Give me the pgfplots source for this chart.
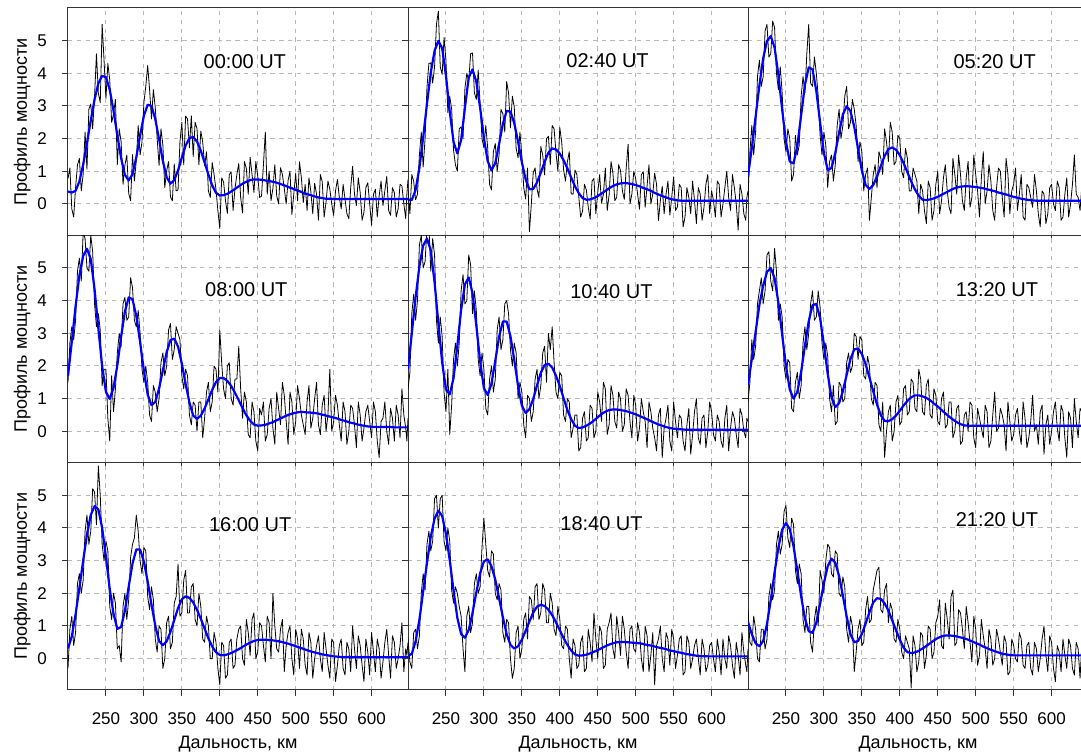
\documentclass[border=0pt]{standalone}
\usepackage{fontspec}
\setmainfont{Liberation Sans}
\usepackage{pgfplots}
\usepackage{pgfplotstable}
\pgfplotsset{compat=1.18}

% x: range, km; b: fitted profile (nan where only the measurement is read); k: measured profile
\pgfplotstableread{
x b k
200 0.38 0.78
202.5 nan 1.1
205 0.35 -0.15
207.5 nan -0.4
210 0.40 0.50
212.5 nan 1.2
215 0.69 1.39
217.5 nan 0.4
220 1.21 0.91
222.5 nan 2.2
225 1.86 1.06
227.5 nan 2.9
230 2.56 3.06
232.5 nan 2.3
235 3.20 3.30
237.5 nan 4.6
240 3.69 3.39
242.5 nan 3.1
245 3.92 5.50
247.5 nan 4.4
250 3.88 3.23
252.5 nan 4.3
255 3.50 3.80
257.5 nan 2.5
260 2.85 2.75
262.5 nan 3.2
265 2.10 1.20
267.5 nan 2.3
270 1.40 1.90
272.5 nan 0.6
275 0.89 1.19
277.5 nan 1.5
280 0.72 0.32
282.5 nan 0.1
285 0.91 1.51
287.5 nan 0.7
290 1.43 1.33
292.5 nan 2.4
295 2.10 1.50
297.5 nan 1.9
300 2.70 3.10
302.5 nan 3.6
305 3.04 4.24
307.5 nan 3.5
310 3.00 2.60
312.5 nan 3.5
315 2.60 2.95
317.5 nan 2.0
320 1.98 1.18
322.5 nan 2.3
325 1.31 1.81
327.5 nan 0.5
330 0.82 1.02
332.5 nan 1.3
335 0.62 0.22
337.5 nan 0.1
340 0.73 1.23
342.5 nan 0.4
345 1.03 0.43
347.5 nan 1.9
350 1.42 2.50
352.5 nan 1.2
355 1.79 2.69
357.5 nan 2.6
360 2.02 1.72
362.5 nan 2.7
365 2.05 1.45
367.5 nan 2.5
370 1.91 2.31
372.5 nan 1.2
375 1.63 2.23
377.5 nan 1.9
380 1.27 1.17
382.5 nan 1.6
385 0.90 0.40
387.5 nan 0.2
390 0.57 1.27
392.5 nan 0.9
395 0.34 0.44
397.5 nan -0.2
400 0.26 -0.75
402.5 nan 0.8
405 0.27 0.67
407.5 nan 0.1
410 0.31 -0.29
412.5 nan 0.9
415 0.38 0.98
417.5 nan -0.2
420 0.46 0.46
422.5 nan 0.9
425 0.54 1.24
427.5 nan 0.2
430 0.62 -0.28
432.5 nan 1.3
435 0.68 1.08
437.5 nan 0.3
440 0.73 1.43
442.5 nan 0.9
445 0.75 0.35
447.5 nan 1.3
450 0.75 0.85
452.5 nan 0.2
455 0.74 0.24
457.5 nan 1.2
460 0.72 2.20
462.5 nan 0.3
465 0.70 1.00
467.5 nan 0.1
470 0.68 0.48
472.5 nan 1.2
475 0.65 0.25
477.5 nan 0.0
480 0.61 1.11
482.5 nan 0.9
485 0.57 0.47
487.5 nan 0.0
490 0.52 0.72
492.5 nan 1.0
495 0.48 -0.32
497.5 nan 0.3
500 0.43 0.93
502.5 nan 0.1
505 0.39 1.29
507.5 nan 0.8
510 0.34 0.04
512.5 nan 0.6
515 0.30 -0.20
517.5 nan 0.8
520 0.27 0.37
522.5 nan -0.3
525 0.23 0.63
527.5 nan 0.3
530 0.20 -0.50
532.5 nan 0.9
535 0.18 0.68
537.5 nan -0.4
540 0.16 0.06
542.5 nan 0.7
545 0.16 0.45
547.5 nan 0.0
550 0.15 -0.35
552.5 nan 0.4
555 0.15 0.75
557.5 nan 0.2
560 0.15 -0.15
562.5 nan 0.6
565 0.15 0.15
567.5 nan -0.3
570 0.15 -0.45
572.5 nan 0.5
575 0.15 1.15
577.5 nan 0.3
580 0.15 -0.05
582.5 nan 0.8
585 0.15 0.35
587.5 nan -0.5
590 0.15 -0.25
592.5 nan 0.5
595 0.15 0.65
597.5 nan 0.0
600 0.15 -0.65
602.5 nan 0.3
605 0.15 0.45
607.5 nan -0.4
610 0.15 0.25
612.5 nan 0.7
615 0.15 -0.05
617.5 nan 0.4
620 0.15 0.85
622.5 nan -0.2
625 0.15 -0.35
627.5 nan 0.5
630 0.15 0.35
632.5 nan -0.4
635 0.15 -0.15
637.5 nan 0.6
640 0.15 0.55
642.5 nan 0.0
645 0.15 -0.45
646.5 nan 0.3
648 0.15 0.75
}\dataA

\pgfplotstableread{
x b k
200 0.13 0.43
202.5 nan -0.3
205 0.12 0.90
207.5 nan 0.7
210 0.43 0.13
212.5 nan 0.3
215 1.10 1.50
217.5 nan 2.2
220 2.04 1.13
222.5 nan 2.0
225 3.07 3.57
227.5 nan 4.3
230 4.02 4.32
232.5 nan 3.7
235 4.69 4.19
237.5 nan 5.5
240 4.99 5.90
242.5 nan 4.2
245 4.77 3.97
247.5 nan 5.1
250 3.93 4.40
252.5 nan 2.8
255 2.83 3.30
257.5 nan 2.9
260 1.90 1.65
262.5 nan 1.2
265 1.55 1.00
267.5 nan 2.3
270 1.96 2.36
272.5 nan 2.0
275 2.94 3.54
277.5 nan 4.0
280 3.87 3.77
282.5 nan 4.6
285 4.12 4.62
287.5 nan 3.4
290 3.74 3.20
292.5 nan 4.1
295 2.95 3.05
297.5 nan 2.0
300 2.02 1.72
302.5 nan 2.4
305 1.31 1.71
307.5 nan 0.6
310 1.03 0.43
312.5 nan 1.6
315 1.25 1.85
317.5 nan 1.0
320 1.83 1.50
322.5 nan 2.9
325 2.46 2.76
327.5 nan 2.2
330 2.85 3.75
332.5 nan 3.4
335 2.83 2.33
337.5 nan 3.3
340 2.47 2.97
342.5 nan 1.7
345 1.91 1.41
347.5 nan 2.2
350 1.28 1.48
352.5 nan 0.5
355 0.75 0.15
357.5 nan 1.1
360 0.45 -0.85
362.5 nan 0.0
365 0.46 0.96
367.5 nan 1.1
370 0.66 0.46
372.5 nan 0.2
375 0.96 1.76
377.5 nan 1.5
380 1.29 0.89
382.5 nan 2.0
385 1.57 2.07
387.5 nan 1.2
390 1.70 2.40
392.5 nan 2.3
395 1.67 1.57
397.5 nan 1.0
400 1.54 2.34
402.5 nan 1.9
405 1.34 1.04
407.5 nan 0.7
410 1.09 1.29
412.5 nan 1.6
415 0.81 0.31
417.5 nan 0.3
420 0.54 1.04
422.5 nan 0.9
425 0.33 0.23
427.5 nan -0.4
430 0.18 -0.22
432.5 nan 0.6
435 0.13 0.43
437.5 nan -0.1
440 0.14 -0.46
442.5 nan 0.7
445 0.18 0.78
447.5 nan -0.3
450 0.24 0.34
452.5 nan 0.9
455 0.32 0.02
457.5 nan 0.3
460 0.40 1.10
462.5 nan -0.2
465 0.48 0.28
467.5 nan 1.3
470 0.55 0.95
472.5 nan 0.1
475 0.60 0.20
477.5 nan 1.2
480 0.63 1.03
482.5 nan 0.4
485 0.64 0.14
487.5 nan 1.1
490 0.63 1.83
492.5 nan 0.0
495 0.61 0.31
497.5 nan 1.0
500 0.58 0.78
502.5 nan 0.3
505 0.54 -0.16
507.5 nan 0.9
510 0.49 0.99
512.5 nan -0.1
515 0.45 0.55
517.5 nan 1.2
520 0.40 0.00
522.5 nan 0.3
525 0.34 0.94
527.5 nan 0.6
530 0.29 -0.51
532.5 nan 0.1
535 0.24 0.54
537.5 nan -0.3
540 0.20 0.30
542.5 nan 0.7
545 0.16 -0.34
547.5 nan 0.2
550 0.13 0.83
552.5 nan -0.2
555 0.11 -0.09
557.5 nan 0.6
560 0.10 0.50
562.5 nan -0.7
565 0.10 -0.40
567.5 nan 0.5
570 0.10 0.20
572.5 nan -0.3
575 0.10 0.70
577.5 nan 0.1
580 0.10 -0.60
582.5 nan 0.5
585 0.10 0.30
587.5 nan -0.5
590 0.10 -0.10
592.5 nan 0.6
595 0.10 0.90
597.5 nan -0.3
600 0.10 0.40
602.5 nan 0.1
605 0.10 -0.40
607.5 nan 0.7
610 0.10 0.60
612.5 nan -0.4
615 0.10 0.00
617.5 nan 0.5
620 0.10 1.00
622.5 nan 0.2
625 0.10 -0.20
627.5 nan 0.9
630 0.10 0.50
632.5 nan 0.0
635 0.10 -0.80
637.5 nan 0.6
640 0.10 0.30
642.5 nan -0.3
645 0.10 -0.50
646.5 nan 0.2
648 0.10 0.40
}\dataB

\pgfplotstableread{
x b k
200 0.86 0.2
202.5 nan 1.6
205 1.71 2.4
207.5 nan 1.5
210 2.67 2.2
212.5 nan 3.9
215 3.63 4.4
217.5 nan 3.6
220 4.46 3.9
222.5 nan 5.3
225 4.99 5.5
227.5 nan 4.5
230 5.14 4.6
232.5 nan 5.6
235 4.79 5.4
237.5 nan 4.0
240 3.95 3.5
242.5 nan 4.2
245 2.89 3.4
247.5 nan 2.0
250 1.90 1.6
252.5 nan 2.3
255 1.30 2.0
257.5 nan 0.7
260 1.24 0.9
262.5 nan 2.1
265 1.78 1.5
267.5 nan 1.8
270 2.71 3.3
272.5 nan 3.9
275 3.65 3.4
277.5 nan 4.6
280 4.18 5.5
282.5 nan 3.7
285 4.12 3.6
287.5 nan 4.5
290 3.46 4.0
292.5 nan 3.3
295 2.49 2.1
297.5 nan 1.5
300 1.56 2.2
302.5 nan 1.8
305 1.04 0.5
307.5 nan 1.3
310 1.10 1.5
312.5 nan 0.7
315 1.56 1.2
317.5 nan 2.4
320 2.18 2.9
322.5 nan 2.0
325 2.74 2.4
327.5 nan 3.3
330 2.99 3.6
332.5 nan 2.3
335 2.84 2.5
337.5 nan 3.2
340 2.36 2.9
342.5 nan 2.4
345 1.69 1.3
347.5 nan 1.9
350 1.02 1.6
352.5 nan 0.4
355 0.58 0.9
357.5 nan 1.1
360 0.46 -0.5
362.5 nan 0.2
365 0.58 0.9
367.5 nan 1.2
370 0.84 0.5
372.5 nan 1.6
375 1.16 1.4
377.5 nan 0.9
380 1.47 2.3
382.5 nan 1.9
385 1.68 1.3
387.5 nan 2.5
390 1.73 2.2
392.5 nan 1.2
395 1.66 1.3
397.5 nan 2.1
400 1.49 2.0
402.5 nan 1.0
405 1.25 0.8
407.5 nan 1.7
410 0.97 1.4
412.5 nan 0.4
415 0.69 0.4
417.5 nan 1.1
420 0.44 0.9
422.5 nan 0.7
425 0.25 -0.3
427.5 nan 0.6
430 0.13 0.4
432.5 nan -0.2
435 0.12 -0.6
437.5 nan 0.7
440 0.14 0.5
442.5 nan -0.5
445 0.17 -0.2
447.5 nan 0.6
450 0.22 1.0
452.5 nan -0.3
455 0.28 0.1
457.5 nan 0.8
460 0.34 1.2
462.5 nan 0.4
465 0.40 -0.1
467.5 nan -0.3
470 0.46 1.4
472.5 nan 0.9
475 0.50 0.3
477.5 nan 1.5
480 0.53 0.9
482.5 nan 0.1
485 0.54 -0.2
487.5 nan 0.8
490 0.54 1.3
492.5 nan -0.1
495 0.53 0.2
497.5 nan 1.5
500 0.52 0.9
502.5 nan 0.4
505 0.50 -0.4
507.5 nan 0.8
510 0.48 1.6
512.5 nan 0.0
515 0.45 0.4
517.5 nan 1.2
520 0.42 0.7
522.5 nan -0.2
525 0.39 -0.5
527.5 nan 0.5
530 0.35 1.1
532.5 nan 1.0
535 0.32 0.2
537.5 nan -0.4
540 0.29 1.4
542.5 nan 0.9
545 0.25 -0.3
547.5 nan 0.4
550 0.22 0.6
552.5 nan 1.1
555 0.19 -0.2
557.5 nan 0.3
560 0.16 0.9
562.5 nan -0.4
565 0.14 -0.5
567.5 nan 0.6
570 0.12 0.5
572.5 nan 0.2
575 0.11 -0.1
577.5 nan 0.9
580 0.10 0.4
582.5 nan -0.3
585 0.10 -0.7
587.5 nan 0.4
590 0.10 0.3
592.5 nan -0.6
595 0.10 -0.3
597.5 nan 0.5
600 0.10 0.6
602.5 nan 0.0
605 0.10 -0.2
607.5 nan 0.7
610 0.10 0.5
612.5 nan -0.5
615 0.10 -0.4
617.5 nan 0.3
620 0.10 0.8
622.5 nan -0.4
625 0.10 0.0
627.5 nan 0.6
630 0.10 1.5
632.5 nan 0.3
635 0.10 0.2
637.5 nan -0.2
640 0.10 0.6
642.5 nan 0.9
645 0.10 -0.3
646.5 nan 0.0
648 0.10 0.4
}\dataC

\pgfplotstableread{
x b k
200 1.69 1.5
202.5 nan 2.7
205 2.74 3.2
207.5 nan 2.8
210 3.83 3.4
212.5 nan 4.9
215 4.77 5.3
217.5 nan 4.6
220 5.37 6.1
222.5 nan 5.9
225 5.59 5.0
227.5 nan 4.9
230 5.27 6.0
232.5 nan 5.5
235 4.35 3.9
237.5 nan 3.2
240 3.15 3.6
242.5 nan 3.1
245 1.99 1.4
247.5 nan 1.9
250 1.20 1.9
252.5 nan 0.4
255 0.99 -0.3
257.5 nan 1.7
260 1.33 0.6
262.5 nan 1.3
265 2.02 2.4
267.5 nan 3.0
270 2.90 2.6
272.5 nan 3.9
275 3.67 4.1
277.5 nan 3.4
280 4.10 3.5
282.5 nan 4.7
285 4.04 4.4
287.5 nan 3.4
290 3.53 3.2
292.5 nan 3.7
295 2.73 3.0
297.5 nan 1.9
300 1.86 1.5
302.5 nan 2.0
305 1.12 1.5
307.5 nan 0.5
310 0.80 0.3
312.5 nan 1.4
315 0.90 1.2
317.5 nan 0.6
320 1.31 1.0
322.5 nan 2.1
325 1.87 2.4
327.5 nan 1.7
330 2.42 2.0
332.5 nan 3.1
335 2.79 3.3
337.5 nan 2.2
340 2.84 2.5
342.5 nan 3.2
345 2.59 3.0
347.5 nan 2.8
350 2.07 1.7
352.5 nan 1.3
355 1.45 1.9
357.5 nan 1.7
360 0.88 0.5
362.5 nan 0.2
365 0.48 0.9
367.5 nan 0.8
370 0.38 0.0
372.5 nan 0.9
375 0.48 0.9
377.5 nan -0.2
380 0.70 0.4
382.5 nan 1.2
385 0.98 1.5
387.5 nan 0.6
390 1.27 0.9
392.5 nan 2.0
395 1.51 1.9
397.5 nan 1.2
400 1.63 3.1
402.5 nan 2.1
405 1.63 1.3
407.5 nan 1.0
410 1.54 2.0
412.5 nan 2.1
415 1.39 1.0
417.5 nan 0.8
420 1.18 1.6
422.5 nan 1.6
425 0.95 2.6
427.5 nan 1.3
430 0.71 0.4
432.5 nan 1.2
435 0.49 0.9
437.5 nan -0.1
440 0.32 -0.2
442.5 nan 0.9
445 0.21 0.6
447.5 nan -0.3
450 0.17 -0.6
452.5 nan 0.7
455 0.18 0.5
457.5 nan 0.9
460 0.20 -0.3
462.5 nan -0.1
465 0.24 0.7
467.5 nan 1.0
470 0.28 0.1
472.5 nan -0.4
475 0.34 1.2
477.5 nan 0.7
480 0.39 0.2
482.5 nan 1.5
485 0.45 1.1
487.5 nan 0.3
490 0.50 -0.4
492.5 nan 1.2
495 0.54 0.9
497.5 nan -0.1
500 0.57 0.3
502.5 nan 1.4
505 0.59 1.0
507.5 nan 0.5
510 0.59 0.2
512.5 nan -0.1
515 0.58 0.9
517.5 nan 1.4
520 0.57 0.1
522.5 nan 0.4
525 0.56 1.0
527.5 nan 1.5
530 0.54 0.2
532.5 nan -0.1
535 0.51 0.8
537.5 nan 1.1
540 0.48 0.0
542.5 nan 0.5
545 0.45 1.9
547.5 nan 0.0
550 0.42 0.3
552.5 nan 1.1
555 0.39 0.8
557.5 nan 0.2
560 0.35 -0.3
562.5 nan 0.9
565 0.32 0.6
567.5 nan -0.4
570 0.28 0.0
572.5 nan 0.8
575 0.25 0.7
577.5 nan 0.2
580 0.22 -0.5
582.5 nan 0.9
585 0.19 0.5
587.5 nan -0.3
590 0.17 0.1
592.5 nan 0.6
595 0.15 0.8
597.5 nan 0.3
600 0.14 -0.2
602.5 nan 0.9
605 0.13 0.6
607.5 nan -0.3
610 0.13 -0.8
612.5 nan 0.3
615 0.13 0.4
617.5 nan 0.9
620 0.13 0.0
622.5 nan -0.4
625 0.13 0.7
627.5 nan 0.4
630 0.12 -0.3
632.5 nan 0.8
635 0.12 0.5
637.5 nan -0.2
640 0.12 1.3
642.5 nan 0.5
645 0.12 0.1
646.5 nan -0.3
648 0.12 0.4
}\dataD

\pgfplotstableread{
x b k
200 1.90 1.3
202.5 nan 1.8
205 3.00 3.6
207.5 nan 4.2
210 4.10 3.4
212.5 nan 4.0
215 5.05 5.7
217.5 nan 6.0
220 5.69 5.0
222.5 nan 5.2
225 5.90 6.2
227.5 nan 6.3
230 5.54 4.9
232.5 nan 5.9
235 4.56 5.4
237.5 nan 3.4
240 3.31 2.7
242.5 nan 3.5
245 2.11 2.9
247.5 nan 1.2
250 1.29 0.6
252.5 nan 1.9
255 1.13 -0.1
257.5 nan 0.8
260 1.63 2.2
262.5 nan 2.7
265 2.62 2.0
267.5 nan 2.7
270 3.72 4.3
272.5 nan 4.8
275 4.50 3.9
277.5 nan 4.0
280 4.71 5.4
282.5 nan 5.1
285 4.23 3.6
287.5 nan 4.3
290 3.24 3.7
292.5 nan 2.2
295 2.15 1.7
297.5 nan 2.4
300 1.32 1.9
302.5 nan 0.7
305 1.11 0.5
307.5 nan 1.6
310 1.46 2.0
312.5 nan 1.2
315 2.16 1.6
317.5 nan 3.1
320 2.89 3.5
322.5 nan 2.5
325 3.36 2.8
327.5 nan 3.9
330 3.36 4.0
332.5 nan 3.6
335 2.91 2.5
337.5 nan 2.0
340 2.19 2.7
342.5 nan 2.4
345 1.39 1.0
347.5 nan 1.5
350 0.79 1.2
352.5 nan 0.2
355 0.56 -0.2
357.5 nan 1.1
360 0.68 1.0
362.5 nan 0.3
365 0.99 0.6
367.5 nan 1.6
370 1.41 1.9
372.5 nan 1.0
375 1.79 1.4
377.5 nan 2.4
380 2.03 2.6
382.5 nan 1.5
385 2.07 3.0
387.5 nan 2.5
390 1.95 3.2
392.5 nan 2.1
395 1.70 1.2
397.5 nan 1.0
400 1.39 1.8
402.5 nan 1.7
405 1.01 0.5
407.5 nan 0.3
410 0.65 1.0
412.5 nan 0.9
415 0.37 -0.2
417.5 nan 0.1
420 0.17 0.5
422.5 nan 0.5
425 0.10 -0.6
427.5 nan -0.5
430 0.12 0.4
432.5 nan 0.6
435 0.17 -0.3
437.5 nan -0.2
440 0.24 0.8
442.5 nan 0.7
445 0.33 -0.2
447.5 nan 0.0
450 0.43 1.2
452.5 nan 0.9
455 0.53 0.3
457.5 nan 1.5
460 0.60 1.3
462.5 nan -0.1
465 0.65 0.2
467.5 nan 1.4
470 0.67 1.1
472.5 nan 0.3
475 0.67 0.1
477.5 nan 1.2
480 0.65 1.0
482.5 nan 0.0
485 0.63 0.2
487.5 nan 1.3
490 0.60 1.1
492.5 nan 0.3
495 0.56 -0.2
497.5 nan 1.1
500 0.52 0.8
502.5 nan -0.3
505 0.47 0.1
507.5 nan 1.0
510 0.42 0.6
512.5 nan 0.3
515 0.37 -0.5
517.5 nan 0.9
520 0.31 0.6
522.5 nan 0.1
525 0.26 -0.2
527.5 nan -0.6
530 0.21 0.5
532.5 nan 0.7
535 0.17 -0.8
537.5 nan 0.1
540 0.13 0.4
542.5 nan 0.8
545 0.10 -0.3
547.5 nan -0.6
550 0.08 0.9
552.5 nan 0.3
555 0.07 -0.2
557.5 nan 0.5
560 0.06 0.4
562.5 nan -0.3
565 0.05 -0.6
567.5 nan 0.2
570 0.05 0.7
572.5 nan -0.7
575 0.05 -0.1
577.5 nan 0.6
580 0.05 1.0
582.5 nan -0.2
585 0.05 -0.4
587.5 nan 0.4
590 0.05 0.5
592.5 nan -0.5
595 0.05 0.0
597.5 nan 0.9
600 0.05 0.6
602.5 nan -0.1
605 0.05 -0.3
607.5 nan 0.5
610 0.05 0.3
612.5 nan -0.3
615 0.05 -0.5
617.5 nan 0.4
620 0.05 0.8
622.5 nan -0.6
625 0.05 0.1
627.5 nan 0.6
630 0.05 0.4
632.5 nan -0.1
635 0.05 -0.5
637.5 nan 0.7
640 0.05 0.5
642.5 nan 0.0
645 0.05 -0.2
646.5 nan 0.4
648 0.05 0.3
}\dataE

\pgfplotstableread{
x b k
200 1.42 0.9
202.5 nan 1.5
205 2.21 2.8
207.5 nan 2.2
210 3.04 2.6
212.5 nan 3.9
215 3.87 4.3
217.5 nan 4.7
220 4.46 3.9
222.5 nan 4.3
225 4.88 5.4
227.5 nan 5.5
230 5.00 4.6
232.5 nan 4.3
235 4.69 5.6
237.5 nan 4.9
240 3.94 3.4
242.5 nan 3.9
245 2.96 3.5
247.5 nan 2.0
250 2.00 1.6
252.5 nan 2.2
255 1.28 2.1
257.5 nan 0.7
260 1.00 0.6
262.5 nan 1.5
265 1.21 1.8
267.5 nan 1.0
270 1.82 1.4
272.5 nan 2.7
275 2.62 3.2
277.5 nan 2.5
280 3.37 3.0
282.5 nan 3.9
285 3.86 4.3
287.5 nan 3.4
290 3.90 3.5
292.5 nan 4.3
295 3.46 3.8
297.5 nan 2.7
300 2.66 2.2
302.5 nan 2.7
305 1.76 2.3
307.5 nan 1.0
310 1.04 0.6
312.5 nan 1.4
315 0.74 0.2
317.5 nan 0.3
320 0.86 1.5
322.5 nan 1.4
325 1.23 0.9
327.5 nan 1.0
330 1.73 2.1
332.5 nan 2.4
335 2.21 1.8
337.5 nan 2.0
340 2.51 3.0
342.5 nan 2.9
345 2.53 2.2
347.5 nan 2.9
350 2.37 2.8
352.5 nan 1.7
355 2.05 1.6
357.5 nan 2.3
360 1.65 2.0
362.5 nan 1.0
365 1.22 0.8
367.5 nan 1.5
370 0.82 1.4
372.5 nan 0.2
375 0.49 0.0
377.5 nan 0.9
380 0.32 -0.8
382.5 nan 0.0
385 0.31 0.6
387.5 nan 0.8
390 0.37 -0.3
392.5 nan 0.0
395 0.48 0.9
397.5 nan 1.1
400 0.63 0.2
402.5 nan 0.3
405 0.79 1.3
407.5 nan 1.4
410 0.93 0.5
412.5 nan 0.6
415 1.04 1.6
417.5 nan 1.5
420 1.10 0.7
422.5 nan 0.6
425 1.10 1.9
427.5 nan 1.6
430 1.07 0.6
432.5 nan 0.5
435 1.02 1.4
437.5 nan 1.6
440 0.95 0.5
442.5 nan 0.4
445 0.85 1.3
447.5 nan 1.1
450 0.76 0.3
452.5 nan 0.2
455 0.65 1.0
457.5 nan 1.2
460 0.55 0.1
462.5 nan 0.2
465 0.45 0.9
467.5 nan 0.9
470 0.36 -0.2
472.5 nan 0.0
475 0.28 0.7
477.5 nan 0.8
480 0.22 -0.4
482.5 nan -0.3
485 0.18 0.5
487.5 nan 0.6
490 0.17 0.0
492.5 nan 0.9
495 0.17 0.8
497.5 nan -0.2
500 0.17 -0.5
502.5 nan 0.7
505 0.17 0.4
507.5 nan 0.1
510 0.17 -0.2
512.5 nan 0.8
515 0.17 0.6
517.5 nan -0.5
520 0.17 -0.3
522.5 nan 0.5
525 0.17 1.2
527.5 nan 0.0
530 0.17 0.1
532.5 nan 0.7
535 0.17 0.5
537.5 nan 0.2
540 0.17 -0.6
542.5 nan 0.9
545 0.17 0.3
547.5 nan -0.3
550 0.17 -0.1
552.5 nan 0.5
555 0.17 0.7
557.5 nan 0.0
560 0.17 -0.4
562.5 nan 0.9
565 0.17 0.4
567.5 nan -0.5
570 0.17 -0.2
572.5 nan 0.3
575 0.17 1.1
577.5 nan 0.0
580 0.17 0.2
582.5 nan -0.4
585 0.17 0.6
587.5 nan 0.8
590 0.17 -0.7
592.5 nan 0.2
595 0.17 0.5
597.5 nan -0.4
600 0.17 0.0
602.5 nan 0.6
605 0.17 0.9
607.5 nan 0.1
610 0.17 -0.3
612.5 nan 0.8
615 0.17 0.6
617.5 nan -0.2
620 0.17 -0.8
622.5 nan 0.6
625 0.17 0.4
627.5 nan -0.5
630 0.17 1.0
632.5 nan 0.3
635 0.17 -0.2
637.5 nan 0.7
640 0.17 0.6
642.5 nan -0.3
645 0.17 -0.4
646.5 nan 0.2
648 0.17 0.5
}\dataF

\pgfplotstableread{
x b k
200 0.31 -0.3
202.5 nan 0.9
205 0.68 1.3
207.5 nan 0.4
210 1.36 0.8
212.5 nan 2.3
215 2.16 2.6
217.5 nan 2.0
220 3.00 2.4
222.5 nan 3.9
225 3.80 4.4
227.5 nan 3.5
230 4.40 3.9
232.5 nan 5.2
235 4.67 5.1
237.5 nan 4.1
240 4.57 5.9
242.5 nan 5.0
245 4.00 3.5
247.5 nan 3.0
250 3.12 3.6
252.5 nan 3.3
255 2.13 1.6
257.5 nan 1.2
260 1.37 2.0
262.5 nan 1.7
265 0.91 0.3
267.5 nan 0.4
270 0.97 -0.1
272.5 nan 1.6
275 1.47 2.0
277.5 nan 1.2
280 2.21 1.8
282.5 nan 3.1
285 2.91 3.5
287.5 nan 3.7
290 3.34 4.4
292.5 nan 3.9
295 3.34 3.0
297.5 nan 2.6
300 2.97 3.4
302.5 nan 3.3
305 2.36 1.9
307.5 nan 1.5
310 1.66 2.2
312.5 nan 1.8
315 1.01 0.6
317.5 nan 0.2
320 0.54 1.0
322.5 nan 0.9
325 0.41 -0.3
327.5 nan 0.0
330 0.53 1.1
332.5 nan 1.3
335 0.82 0.3
337.5 nan 0.5
340 1.18 1.7
342.5 nan 1.9
345 1.55 2.9
347.5 nan 1.3
350 1.82 1.4
352.5 nan 2.4
355 1.91 2.7
357.5 nan 1.4
360 1.86 1.4
362.5 nan 2.2
365 1.72 2.3
367.5 nan 1.2
370 1.49 1.0
372.5 nan 2.0
375 1.22 1.6
377.5 nan 0.6
380 0.92 0.5
382.5 nan 1.3
385 0.62 1.0
387.5 nan 0.0
390 0.37 0.0
392.5 nan 0.8
395 0.20 0.5
397.5 nan -0.3
400 0.11 -0.8
402.5 nan 0.5
405 0.10 0.4
407.5 nan -0.6
410 0.13 -0.5
412.5 nan 0.5
415 0.17 0.6
417.5 nan -0.3
420 0.23 -0.2
422.5 nan 0.6
425 0.29 0.9
427.5 nan 1.0
430 0.36 0.0
432.5 nan -0.2
435 0.43 1.2
437.5 nan 0.8
440 0.49 0.1
442.5 nan 1.2
445 0.54 1.4
447.5 nan 0.0
450 0.57 0.2
452.5 nan 1.1
455 0.58 1.0
457.5 nan 0.4
460 0.58 -0.1
462.5 nan 1.3
465 0.57 1.1
467.5 nan 0.0
470 0.56 2.0
472.5 nan 1.0
475 0.54 0.3
477.5 nan 0.2
480 0.52 0.9
482.5 nan 1.2
485 0.49 -0.4
487.5 nan 0.4
490 0.46 0.8
492.5 nan 1.0
495 0.42 0.0
497.5 nan -0.5
500 0.38 0.9
502.5 nan 0.6
505 0.34 -0.3
507.5 nan 0.9
510 0.30 0.6
512.5 nan -0.2
515 0.26 -0.5
517.5 nan 0.8
520 0.22 0.5
522.5 nan -0.6
525 0.19 0.0
527.5 nan 0.4
530 0.16 0.7
532.5 nan 0.0
535 0.13 -0.4
537.5 nan 0.8
540 0.11 0.3
542.5 nan -0.2
545 0.09 -0.6
547.5 nan 0.6
550 0.07 0.5
552.5 nan -0.7
555 0.06 -0.2
557.5 nan 0.4
560 0.05 0.6
562.5 nan -0.3
565 0.045 -0.5
567.5 nan 0.5
570 0.04 0.3
572.5 nan -0.4
575 0.04 1.0
577.5 nan 0.3
580 0.04 -0.3
582.5 nan 0.7
585 0.04 0.4
587.5 nan -0.2
590 0.04 -0.7
592.5 nan 0.6
595 0.04 0.2
597.5 nan -0.5
600 0.04 0.8
602.5 nan 0.2
605 0.04 -0.4
607.5 nan 0.6
610 0.04 0.3
612.5 nan -0.6
615 0.04 -0.1
617.5 nan 0.5
620 0.04 0.9
622.5 nan 0.1
625 0.04 -0.6
627.5 nan 0.7
630 0.04 0.5
632.5 nan -0.3
635 0.04 0.0
637.5 nan 0.4
640 0.04 1.1
642.5 nan -0.4
645 0.04 0.3
646.5 nan 0.1
648 0.04 0.5
}\dataG

\pgfplotstableread{
x b k
200 0.08 0.6
202.5 nan -0.1
205 0.15 -0.3
207.5 nan 0.8
210 0.53 0.9
212.5 nan 0.3
215 1.19 0.7
217.5 nan 2.0
220 2.06 2.6
222.5 nan 2.1
225 2.93 3.5
227.5 nan 3.9
230 3.73 3.3
232.5 nan 3.6
235 4.29 4.9
237.5 nan 5.0
240 4.53 4.0
242.5 nan 4.9
245 4.37 5.0
247.5 nan 3.6
250 3.83 3.3
252.5 nan 4.0
255 3.01 3.6
257.5 nan 2.1
260 2.09 1.7
262.5 nan 2.2
265 1.25 2.0
267.5 nan 1.6
270 0.75 1.3
272.5 nan 0.3
275 0.64 -0.4
277.5 nan 1.3
280 0.88 1.6
282.5 nan 0.8
285 1.40 1.1
287.5 nan 2.3
290 2.03 2.6
292.5 nan 2.0
295 2.61 2.2
297.5 nan 3.4
300 2.98 4.3
302.5 nan 3.5
305 3.04 2.7
307.5 nan 2.5
310 2.83 3.3
312.5 nan 3.2
315 2.42 2.0
317.5 nan 1.8
320 1.85 2.3
322.5 nan 2.1
325 1.27 0.8
327.5 nan 0.5
330 0.75 1.2
332.5 nan 1.1
335 0.42 0.0
337.5 nan -0.6
340 0.31 -0.3
342.5 nan 0.8
345 0.38 1.0
347.5 nan 0.0
350 0.58 0.3
352.5 nan 1.2
355 0.85 1.4
357.5 nan 0.6
360 1.14 1.9
362.5 nan 1.8
365 1.41 1.2
367.5 nan 2.2
370 1.59 2.3
372.5 nan 1.2
375 1.65 1.4
377.5 nan 2.3
380 1.61 2.1
382.5 nan 1.1
385 1.50 1.1
387.5 nan 2.0
390 1.33 1.7
392.5 nan 0.9
395 1.11 0.7
397.5 nan 1.6
400 0.87 1.2
402.5 nan 0.4
405 0.63 0.3
407.5 nan 1.0
410 0.42 0.9
412.5 nan 0.0
415 0.25 -0.6
417.5 nan 0.6
420 0.13 0.4
422.5 nan -0.3
425 0.09 -0.2
427.5 nan 0.5
430 0.10 0.7
432.5 nan -0.4
435 0.12 -0.3
437.5 nan 0.9
440 0.16 0.5
442.5 nan -0.1
445 0.21 1.4
447.5 nan 0.6
450 0.26 0.0
452.5 nan 1.0
455 0.32 0.8
457.5 nan -0.3
460 0.38 -0.2
462.5 nan 0.9
465 0.43 1.1
467.5 nan 1.4
470 0.47 0.3
472.5 nan 0.0
475 0.50 1.3
477.5 nan 0.8
480 0.51 0.1
482.5 nan 1.3
485 0.51 0.9
487.5 nan 0.2
490 0.50 -0.3
492.5 nan 0.9
495 0.49 1.0
497.5 nan 0.3
500 0.48 0.2
502.5 nan 1.1
505 0.47 0.8
507.5 nan 0.0
510 0.45 -0.4
512.5 nan 1.0
515 0.42 0.7
517.5 nan -0.4
520 0.40 0.1
522.5 nan 0.8
525 0.37 -0.8
527.5 nan 0.4
530 0.34 0.6
532.5 nan 1.0
535 0.32 0.0
537.5 nan -0.4
540 0.29 0.8
542.5 nan 0.6
545 0.25 -0.2
547.5 nan 0.9
550 0.23 0.6
552.5 nan -0.3
555 0.20 0.1
557.5 nan 0.6
560 0.18 0.7
562.5 nan -0.5
565 0.15 -0.4
567.5 nan 0.7
570 0.13 0.5
572.5 nan -0.3
575 0.11 0.0
577.5 nan 0.4
580 0.09 0.6
582.5 nan 0.0
585 0.08 -0.5
587.5 nan 0.6
590 0.075 0.3
592.5 nan -0.4
595 0.07 -0.2
597.5 nan 0.4
600 0.07 0.5
602.5 nan 0.0
605 0.07 -0.4
607.5 nan 0.6
610 0.07 0.2
612.5 nan -0.5
615 0.07 0.6
617.5 nan 0.0
620 0.07 -0.3
622.5 nan 0.7
625 0.07 0.4
627.5 nan -0.2
630 0.07 -0.6
632.5 nan 0.5
635 0.07 0.1
637.5 nan -0.5
640 0.07 0.8
642.5 nan 0.2
645 0.07 -0.2
646.5 nan -0.4
648 0.07 0.3
}\dataH

\pgfplotstableread{
x b k
200 1.12 1.5
202.5 nan 0.5
205 0.75 0.4
207.5 nan 1.3
210 0.47 0.9
212.5 nan 0.0
215 0.38 -0.1
217.5 nan 0.9
220 0.54 0.9
222.5 nan 0.3
225 1.06 0.6
227.5 nan 1.9
230 1.79 2.3
232.5 nan 1.8
235 2.64 2.1
237.5 nan 3.5
240 3.40 3.9
242.5 nan 3.2
245 3.95 3.5
247.5 nan 4.5
250 4.15 4.7
252.5 nan 3.7
255 3.97 3.4
257.5 nan 4.3
260 3.44 4.1
262.5 nan 2.7
265 2.69 2.3
267.5 nan 2.9
270 1.91 2.6
272.5 nan 1.2
275 1.23 0.8
277.5 nan 1.6
280 0.84 1.6
282.5 nan 0.5
285 0.79 0.2
287.5 nan 1.2
290 1.10 1.6
292.5 nan 1.0
295 1.68 2.7
297.5 nan 2.4
300 2.31 2.0
302.5 nan 3.0
305 2.83 3.5
307.5 nan 3.4
310 3.06 2.6
312.5 nan 2.5
315 2.94 3.3
317.5 nan 3.2
320 2.53 2.0
322.5 nan 1.9
325 1.93 2.5
327.5 nan 2.2
330 1.29 0.9
332.5 nan 0.5
335 0.75 1.3
337.5 nan 1.0
340 0.50 -0.4
342.5 nan 0.2
345 0.54 0.9
347.5 nan 1.2
350 0.75 0.4
352.5 nan 0.5
355 1.08 1.5
357.5 nan 1.9
360 1.42 1.1
362.5 nan 1.2
365 1.72 2.1
367.5 nan 2.4
370 1.85 2.7
372.5 nan 2.8
375 1.83 1.5
377.5 nan 1.4
380 1.69 2.1
382.5 nan 2.3
385 1.47 1.1
387.5 nan 1.7
390 1.17 1.5
392.5 nan 0.6
395 0.87 0.5
397.5 nan 1.2
400 0.58 0.9
402.5 nan 0.2
405 0.34 0.0
407.5 nan 0.7
410 0.20 0.5
412.5 nan 0.3
415 0.17 -0.9
417.5 nan 0.7
420 0.19 0.4
422.5 nan -0.4
425 0.24 -0.1
427.5 nan 0.8
430 0.31 0.7
432.5 nan -0.3
435 0.39 0.1
437.5 nan 1.0
440 0.47 0.9
442.5 nan 0.0
445 0.56 0.2
447.5 nan 1.1
450 0.63 1.3
452.5 nan 1.8
455 0.68 0.4
457.5 nan 0.3
460 0.71 1.7
462.5 nan 1.2
465 0.71 0.6
467.5 nan 1.9
470 0.70 2.1
472.5 nan 0.4
475 0.68 0.5
477.5 nan 1.5
480 0.65 1.4
482.5 nan 0.9
485 0.62 0.3
487.5 nan 1.6
490 0.58 1.1
492.5 nan 0.5
495 0.53 -0.1
497.5 nan 1.3
500 0.48 0.9
502.5 nan -0.2
505 0.43 0.1
507.5 nan 1.2
510 0.37 0.7
512.5 nan 0.3
515 0.32 -0.3
517.5 nan 0.9
520 0.27 0.6
522.5 nan -0.2
525 0.23 0.0
527.5 nan 0.9
530 0.19 0.6
532.5 nan 0.2
535 0.15 -0.2
537.5 nan 0.7
540 0.13 0.5
542.5 nan -0.5
545 0.11 -0.4
547.5 nan 0.6
550 0.10 0.4
552.5 nan 0.0
555 0.10 -0.1
557.5 nan 0.8
560 0.10 0.6
562.5 nan -0.2
565 0.10 -0.3
567.5 nan 0.4
570 0.10 0.5
572.5 nan -0.3
575 0.10 -0.5
577.5 nan 0.5
580 0.10 0.3
582.5 nan -0.4
585 0.10 0.0
587.5 nan 0.6
590 0.10 1.0
592.5 nan 0.1
595 0.10 -0.4
597.5 nan 0.7
600 0.10 0.5
602.5 nan -0.3
605 0.10 -0.7
607.5 nan 0.4
610 0.10 0.2
612.5 nan -0.4
615 0.10 0.6
617.5 nan 0.1
620 0.10 -0.3
622.5 nan 0.6
625 0.10 0.4
627.5 nan -0.3
630 0.10 -0.5
632.5 nan 0.5
635 0.10 0.3
637.5 nan -0.6
640 0.10 0.5
642.5 nan 0.4
645 0.10 -0.2
646.5 nan -0.1
648 0.10 0.3
}\dataI

\pgfplotsset{
  panel/.style={
    scale only axis, width=170pt, height=113.67pt,
    anchor=south west,
    xmin=200, xmax=648, ymin=-0.96, ymax=6.0,
    xtick={250,300,...,600}, ytick={0,1,2,3,4,5},
    tick pos=left, tick align=outside,
    major tick length=3pt,
    every tick/.append style={black!80, line width=0.5pt},
    axis line style={black!80, line width=0.5pt},
    grid=major,
    major grid style={gray!55, dash pattern=on 2.2pt off 2.2pt, line width=0.5pt},
    /pgf/number format/assume math mode=true,
    tick label style={font=\fontsize{8.5}{10}\selectfont},
    xticklabel style={yshift=-5pt},
    yticklabel style={xshift=-4pt},
    label style={font=\fontsize{9}{11}\selectfont},
    xlabel style={at={(axis description cs:0.5,-0.237)}, anchor=center},
    ylabel style={at={(axis description cs:-0.135,0.5)}, anchor=center},
  },
  noxlab/.style={xticklabels={}},
  noylab/.style={yticklabels={}},
  noisy/.style={black, line width=0.4pt, line join=round},
  fit/.style={blue, line width=1.1pt, line join=round, unbounded coords=discard},
}
\tikzset{stamp/.style={font=\fontsize{10}{12}\selectfont, anchor=center}}

\begin{document}
\begin{tikzpicture}

% top row
\begin{axis}[panel, noxlab, at={(0pt,227.34pt)}, ylabel={Профиль мощности}]
\addplot[noisy] table[x=x, y=k] {\dataA};
\addplot[fit] table[x=x, y=b] {\dataA};
\node[stamp] at (axis cs:433,4.37) {00:00 UT};
\end{axis}
\begin{axis}[panel, noxlab, noylab, at={(170pt,227.34pt)}]
\addplot[noisy] table[x=x, y=k] {\dataB};
\addplot[fit] table[x=x, y=b] {\dataB};
\node[stamp] at (axis cs:463,4.40) {02:40 UT};
\end{axis}
\begin{axis}[panel, noxlab, noylab, at={(340pt,227.34pt)}]
\addplot[noisy] table[x=x, y=k] {\dataC};
\addplot[fit] table[x=x, y=b] {\dataC};
\node[stamp] at (axis cs:525,4.37) {05:20 UT};
\end{axis}

% middle row
\begin{axis}[panel, noxlab, at={(0pt,113.67pt)}, ylabel={Профиль мощности}]
\addplot[noisy] table[x=x, y=k] {\dataD};
\addplot[fit] table[x=x, y=b] {\dataD};
\node[stamp] at (axis cs:435,4.33) {08:00 UT};
\end{axis}
\begin{axis}[panel, noxlab, noylab, at={(170pt,113.67pt)}]
\addplot[noisy] table[x=x, y=k] {\dataE};
\addplot[fit] table[x=x, y=b] {\dataE};
\node[stamp] at (axis cs:468,4.28) {10:40 UT};
\end{axis}
\begin{axis}[panel, noxlab, noylab, at={(340pt,113.67pt)}]
\addplot[noisy] table[x=x, y=k] {\dataF};
\addplot[fit] table[x=x, y=b] {\dataF};
\node[stamp] at (axis cs:528,4.33) {13:20 UT};
\end{axis}

% bottom row
\begin{axis}[panel, at={(0pt,0pt)}, ylabel={Профиль мощности}, xlabel={Дальность, км}]
\addplot[noisy] table[x=x, y=k] {\dataG};
\addplot[fit] table[x=x, y=b] {\dataG};
\node[stamp] at (axis cs:440,4.10) {16:00 UT};
\end{axis}
\begin{axis}[panel, noylab, at={(170pt,0pt)}, xlabel={Дальность, км}]
\addplot[noisy] table[x=x, y=k] {\dataH};
\addplot[fit] table[x=x, y=b] {\dataH};
\node[stamp] at (axis cs:455,4.13) {18:40 UT};
\end{axis}
\begin{axis}[panel, noylab, at={(340pt,0pt)}, xlabel={Дальность, км}]
\addplot[noisy] table[x=x, y=k] {\dataI};
\addplot[fit] table[x=x, y=b] {\dataI};
\node[stamp] at (axis cs:528,4.26) {21:20 UT};
\end{axis}

% page as in the reference: the right column is cut at its right edge
\pgfresetboundingbox
\path (-34pt,-32pt) rectangle (506.5pt,345pt);
\end{tikzpicture}
\end{document}
